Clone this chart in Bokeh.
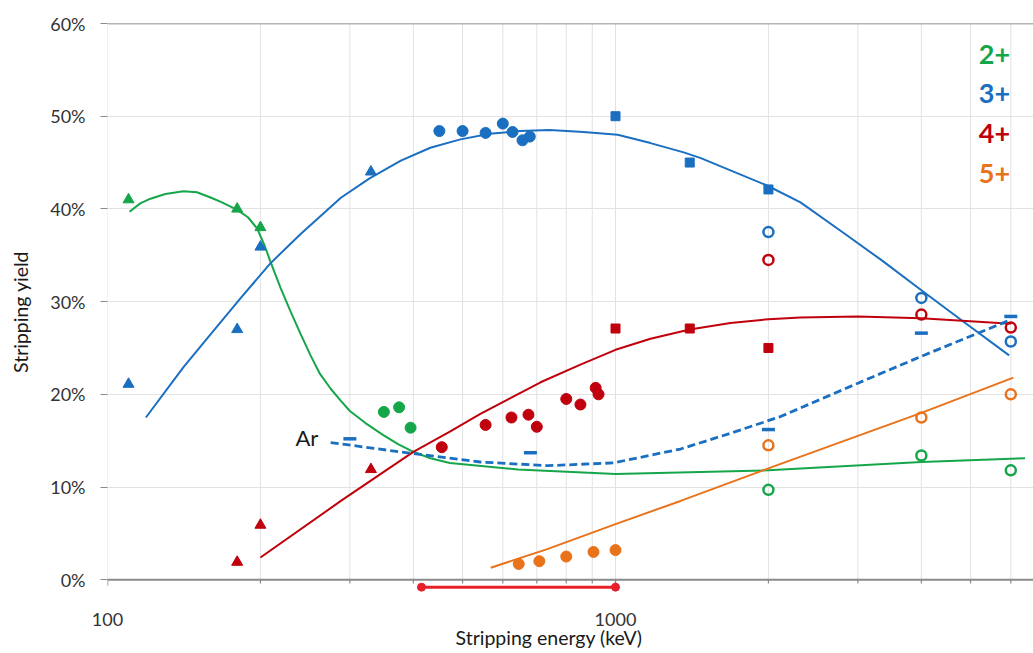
from bokeh.plotting import figure
from bokeh.models import Range1d, FixedTicker, PrintfTickFormatter, Span, Title
from bokeh.core.properties import value
from bokeh.embed import file_html
from bokeh.resources import INLINE

# ---------------- data (values in % of stripping yield) ----------------
# 2+ (green)
g_tri_x = [110, 180, 200]
g_tri_y = [41.0, 40.0, 38.0]
g_circ_x = [350, 375, 395]
g_circ_y = [18.1, 18.6, 16.4]
g_open_x = [2000, 4000, 6000]
g_open_y = [9.7, 13.4, 11.8]
g_fit_x = [110.5, 116, 121.5, 130, 141, 150, 160, 168, 180, 189, 197, 204, 209, 219, 229, 240, 251, 262, 275, 288, 300, 322, 349, 374, 400, 432, 472, 643, 1000, 2000, 4000, 6400]
g_fit_y = [39.7, 40.6, 41.1, 41.6, 41.9, 41.8, 41.2, 40.7, 39.9, 39.1, 37.9, 36.0, 34.4, 31.5, 29.0, 26.5, 24.2, 22.2, 20.6, 19.3, 18.2, 16.9, 15.6, 14.6, 13.8, 13.1, 12.6, 11.9, 11.4, 11.8, 12.7, 13.1]

# 3+ (blue)
b_tri_x = [110, 180, 200, 330]
b_tri_y = [21.1, 27.0, 35.9, 44.0]
b_circ_x = [450, 500, 555, 600, 627, 656, 678]
b_circ_y = [48.4, 48.4, 48.2, 49.2, 48.3, 47.4, 47.8]
b_sq_x = [1000, 1400, 2000]
b_sq_y = [50.0, 45.0, 42.1]
b_open_x = [2000, 4000, 6000]
b_open_y = [37.5, 30.4, 25.7]
b_fit_x = [119, 141, 157, 183, 209, 240, 288, 328, 378, 432, 495, 566, 648, 742, 865, 1010, 1172, 1362, 1468, 1992, 2313, 2813, 3334, 4007, 4851, 5954]
b_fit_y = [17.5, 22.9, 26.0, 30.4, 34.1, 37.3, 41.2, 43.3, 45.2, 46.6, 47.5, 48.1, 48.4, 48.5, 48.3, 48.0, 47.1, 46.1, 45.5, 42.5, 40.7, 37.4, 34.5, 31.2, 27.8, 24.2]

# Ar (blue dashes)
ar_x = [300, 680, 2000, 4000, 6000]
ar_y = [15.2, 13.7, 16.2, 26.6, 28.4]
ar_fit_x = [275, 400, 542, 734, 990, 1343, 1684, 2113, 3000, 4000, 5911]
ar_fit_y = [14.8, 13.6, 12.7, 12.3, 12.6, 14.1, 15.8, 17.6, 21.2, 24.1, 27.9]

# 4+ (red)
r_tri_x = [180, 200, 330]
r_tri_y = [1.9, 5.9, 11.9]
r_circ_x = [455, 555, 624, 674, 700, 800, 853, 914, 926]
r_circ_y = [14.3, 16.7, 17.5, 17.8, 16.5, 19.5, 18.9, 20.7, 20.0]
r_sq_x = [1000, 1400, 2000]
r_sq_y = [27.1, 27.1, 25.0]
r_open_x = [2000, 4000, 6000]
r_open_y = [34.5, 28.6, 27.2]
r_fit_x = [200, 288, 400, 473, 542, 712, 853, 1000, 1172, 1400, 1684, 2000, 2313, 3000, 4000, 6000]
r_fit_y = [2.4, 8.5, 13.8, 16.0, 17.9, 21.3, 23.2, 24.8, 26.0, 27.0, 27.7, 28.1, 28.3, 28.4, 28.2, 27.6]

# 5+ (orange)
o_circ_x = [645, 708, 800, 905, 1000]
o_circ_y = [1.7, 2.0, 2.5, 3.0, 3.2]
o_open_x = [2000, 4000, 6000]
o_open_y = [14.5, 17.5, 20.0]
o_fit_x = [568, 734, 1000, 1343, 2114, 4000, 6070]
o_fit_y = [1.3, 3.3, 6.0, 8.5, 12.5, 18.0, 21.8]

# red range bar below the axis
bar_x = [415, 1000]
bar_y = [-0.8, -0.8]

# axes
y_ticks = [0, 10, 20, 30, 40, 50, 60]
x_major = [100, 1000]
x_minor = [200, 300, 400, 500, 600, 700, 800, 900, 2000, 3000, 4000, 5000, 6000]
x_grid = [100, 200, 300, 400, 500, 600, 700, 800, 900, 1000, 2000, 3000, 4000, 5000, 6000]

legend_labels = ["2+", "3+", "4+", "5+"]
legend_y = [56.7, 52.4, 48.1, 43.8]

GREEN = "#16a64a"
BLUE = "#1a6fc0"
RED = "#c0000c"
ORANGE = "#e8731a"
legend_colors = [GREEN, BLUE, RED, ORANGE]

FONT = "Lato"

p = figure(x_axis_type="log", x_range=Range1d(100, 6650), y_range=Range1d(-2.24, 60),
           frame_width=926, frame_height=577,
           min_border_left=107, min_border_right=0, min_border_top=23, min_border_bottom=53,
           output_backend="svg", toolbar_location=None,
           background_fill_color="white", border_fill_color="white", outline_line_color=None)

# grids
p.xgrid.visible = False
p.ygrid.ticker = FixedTicker(ticks=[10, 20, 30, 40, 50])
p.ygrid.grid_line_color = "#e2e2e2"
p.ygrid.grid_line_width = 1
p.segment(x0=x_grid, y0=[0] * len(x_grid), x1=x_grid, y1=[60] * len(x_grid),
          line_color="#e2e2e2", line_width=1)

# axis lines
p.add_layout(Span(location=0, dimension="width", line_color="#8a8a8a", line_width=2))
p.add_layout(Span(location=60, dimension="width", line_color="#6a6a6a", line_width=1.5))
p.segment(x0=x_major, y0=[0] * len(x_major), x1=x_major, y1=[-0.65] * len(x_major),
          line_color="#8a8a8a", line_width=1.5)
p.segment(x0=x_minor, y0=[0] * len(x_minor), x1=x_minor, y1=[-0.4] * len(x_minor),
          line_color="#8a8a8a", line_width=1.2)

# y axis
p.yaxis.ticker = FixedTicker(ticks=y_ticks)
p.yaxis.formatter = PrintfTickFormatter(format="%d%%")
p.yaxis.axis_line_color = None
p.yaxis.major_tick_out = 7
p.yaxis.major_tick_in = 0
p.yaxis.major_tick_line_color = "#8a8a8a"
p.yaxis.minor_tick_line_color = None
p.yaxis.major_label_standoff = 15
p.yaxis.major_label_text_font = FONT
p.yaxis.major_label_text_font_size = "18px"
p.yaxis.major_label_text_color = "#333333"
p.yaxis.axis_label = "Stripping yield"
p.yaxis.axis_label_text_font = FONT
p.yaxis.axis_label_text_font_size = "19.5px"
p.yaxis.axis_label_text_font_style = "normal"
p.yaxis.axis_label_text_color = "#1a1a1a"
p.yaxis.axis_label_standoff = 15

# x axis
p.xaxis.ticker = FixedTicker(ticks=x_major, minor_ticks=[])
p.xaxis.formatter = PrintfTickFormatter(format="%d")
p.xaxis.axis_line_color = None
p.xaxis.major_tick_line_color = None
p.xaxis.minor_tick_line_color = None
p.xaxis.major_tick_out = 0
p.xaxis.major_tick_in = 0
p.xaxis.major_label_standoff = 12
p.xaxis.major_label_text_font = FONT
p.xaxis.major_label_text_font_size = "18px"
p.xaxis.major_label_text_color = "#333333"

# x-axis title, left of the frame centre as in the reference
p.add_layout(Title(text="Stripping energy (keV)", align="left", offset=348, standoff=-10,
                   text_font=FONT, text_font_size="19.5px", text_font_style="normal",
                   text_color="#1a1a1a"), "below")

# fitted curves
p.line(g_fit_x, g_fit_y, line_color=GREEN, line_width=2)
p.line(b_fit_x, b_fit_y, line_color=BLUE, line_width=2)
p.line(r_fit_x, r_fit_y, line_color=RED, line_width=2)
p.line(o_fit_x, o_fit_y, line_color=ORANGE, line_width=2)
p.line(ar_fit_x, ar_fit_y, line_color=BLUE, line_width=2.8, line_dash="8 4")

# markers
p.scatter(g_tri_x, g_tri_y, marker="triangle", size=11, color=GREEN)
p.scatter(b_tri_x, b_tri_y, marker="triangle", size=11, color=BLUE)
p.scatter(r_tri_x, r_tri_y, marker="triangle", size=11, color=RED)

p.scatter(g_circ_x, g_circ_y, marker="circle", size=11, color=GREEN)
p.scatter(b_circ_x, b_circ_y, marker="circle", size=11, color=BLUE)
p.scatter(r_circ_x, r_circ_y, marker="circle", size=11, color=RED)
p.scatter(o_circ_x, o_circ_y, marker="circle", size=11, color=ORANGE)

p.scatter(b_sq_x, b_sq_y, marker="square", size=9, color=BLUE)
p.scatter(r_sq_x, r_sq_y, marker="square", size=9, color=RED)

p.scatter(g_open_x, g_open_y, marker="circle", size=10, fill_color=None, line_color=GREEN, line_width=2.5)
p.scatter(b_open_x, b_open_y, marker="circle", size=10, fill_color=None, line_color=BLUE, line_width=2.5)
p.scatter(r_open_x, r_open_y, marker="circle", size=10, fill_color=None, line_color=RED, line_width=2.5)
p.scatter(o_open_x, o_open_y, marker="circle", size=10, fill_color=None, line_color=ORANGE, line_width=2.5)

p.scatter(ar_x, ar_y, marker="dash", size=13, line_color=BLUE, line_width=3.5)

# red range bar
p.line(bar_x, bar_y, line_color="#e8202a", line_width=3)
p.scatter(bar_x, bar_y, marker="circle", size=8, color="#e8202a")

# labels
p.text(x=[260], y=[15.3], text=["Ar"], text_align="right", text_baseline="middle",
       text_font=value(FONT), text_font_size="22px", text_color="#1a1a1a")
p.text(x=[5190] * len(legend_labels), y=legend_y, text=legend_labels, text_color=legend_colors,
       text_align="left", text_baseline="middle", text_font=value(FONT),
       text_font_size="27px", text_font_style="bold")

open("out.html", "w").write(file_html(p, INLINE))
